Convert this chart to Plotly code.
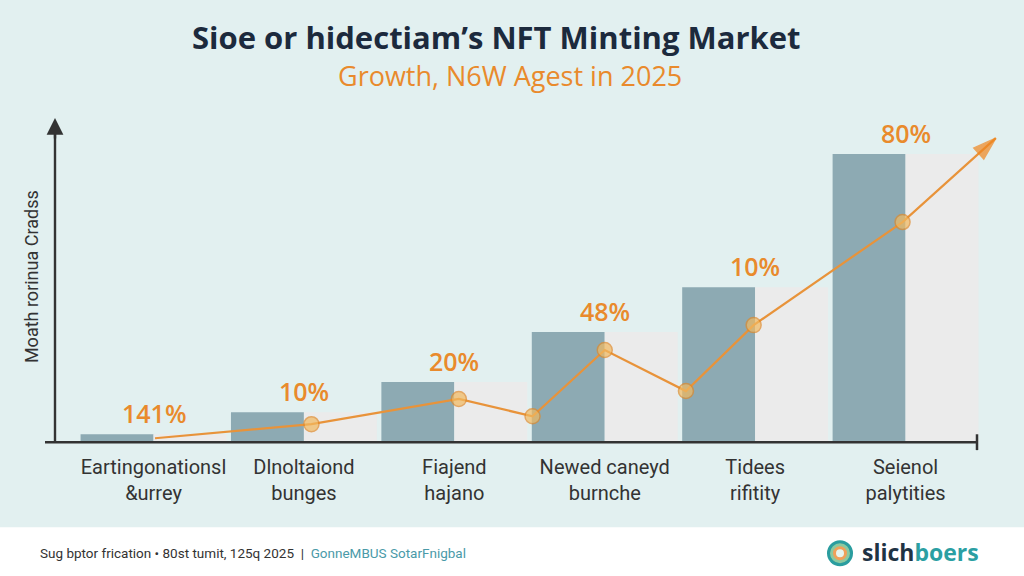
import plotly.graph_objects as go

# ---------------- data ----------------
categories = ["Eartingonationsl<br>&urrey", "Dlnoltaiond<br>bunges", "Fiajend<br>hajano",
              "Newed caneyd<br>burnche", "Tidees<br>rifitity", "Seienol<br>palytities"]
bar_values = [2.2, 8.3, 16.7, 30.6, 43.0, 80.0]
bar_labels = ["141%", "10%", "20%", "48%", "10%", "80%"]
trend_x = [0.01, 1.05, 2.03, 2.52, 3.00, 3.54, 3.99, 4.98, 5.60]
trend_y = [1.1, 5.0, 12.0, 7.2, 25.6, 14.2, 32.5, 61.1, 84.4]

title_text = "Sioe or hidectiam’s NFT Minting Market"
subtitle_text = "Growth, N6W Agest in 2025"
y_title = "Moath rorinua Cradss"
footer_main = "Sug bptor frication • 80st tumit, 125q 2025  |  "
footer_note = "GonneMBUS SotarFnigbal"

# ---------------- style ----------------
BG = "#e2f0f0"
SLATE = "#8daab3"
GREY = "#ebebeb"
ORANGE = "#e98a2c"
DARK = "#333333"
NAVY = "#1c2a3d"

W, H = 1024, 576
ML, MR, MT = 55, 24, 118
Y_MIN, Y_MAX = -3, 90
PX_PER_UNIT = 3.6
plot_h = (Y_MAX - Y_MIN) * PX_PER_UNIT
MB = H - MT - plot_h
plot_w = W - ML - MR


def pxx(p):
    return (p - ML) / plot_w


def pxy(p):
    return (MT + plot_h - p) / plot_h


xpos = list(range(len(categories)))

fig = go.Figure()
fig.add_trace(go.Bar(x=xpos, y=bar_values, marker_color=SLATE, marker_line_width=0,
                     offsetgroup="a", hoverinfo="skip"))
fig.add_trace(go.Bar(x=xpos, y=bar_values, marker_color=GREY, marker_line_width=0,
                     offsetgroup="b", hoverinfo="skip"))

n = len(trend_x)
fig.add_trace(go.Scatter(
    x=trend_x, y=trend_y, mode="lines+markers",
    line=dict(color="#e8933a", width=2.2),
    marker=dict(symbol=["circle"] * (n - 1) + ["arrow"],
                size=[15] * (n - 1) + [24],
                angleref="previous",
                color=["#f2b95f"] * (n - 1) + ["#f0861f"],
                line=dict(color=["#e08a2a"] * (n - 1) + ["#f0861f"], width=1.5)),
    cliponaxis=False, hoverinfo="skip"))

annotations = []
for i, (v, lab) in enumerate(zip(bar_values, bar_labels)):
    annotations.append(dict(x=i, y=v, text=lab, showarrow=False, yanchor="bottom", yshift=2,
                            font=dict(family="Open Sans", size=25, color=ORANGE, weight=600)))


def txt(px, py, text, font, **kw):
    d = dict(x=pxx(px), y=pxy(py), xref="paper", yref="paper", text=text, showarrow=False,
             xanchor="center", yanchor="middle", font=font)
    d.update(kw)
    return d


annotations += [
    txt(496, 37, title_text, dict(family="Open Sans", size=31, color=NAVY, weight=700)),
    txt(510, 76, subtitle_text, dict(family="Open Sans", size=27, color=ORANGE)),
    txt(31, 277, y_title, dict(family="Roboto", size=18, color=DARK), textangle=-90),
    dict(x=0, y=1, xref="paper", yref="paper", ax=0, ay=22, text="", showarrow=True,
         arrowhead=2, arrowsize=1.4, arrowwidth=2.4, arrowcolor=DARK),
    txt(38, 553, f"<span style='color:#333'>{footer_main}</span>"
                 f"<span style='color:#4a9aa8'>{footer_note}</span>",
        dict(family="Roboto", size=13.5, color=DARK), xanchor="left"),
    txt(860, 552, "<b><span style='color:#1f3344'>slich</span><span style='color:#2b9fa3'>boers</span></b>",
        dict(family="Open Sans", size=23), xanchor="left"),
]

shapes = [
    # footer band
    dict(type="rect", xref="paper", yref="paper", x0=pxx(-10), x1=pxx(1034),
         y0=pxy(590), y1=pxy(527), fillcolor="white", line_width=0, layer="below"),
    # x axis line
    dict(type="line", xref="paper", yref="y", x0=pxx(45), x1=pxx(977), y0=0, y1=0,
         line=dict(color=DARK, width=2.5)),
    dict(type="line", xref="paper", yref="y", x0=pxx(977), x1=pxx(977), y0=-2.2, y1=2.2,
         line=dict(color=DARK, width=2.5)),
    # y axis line
    dict(type="line", xref="paper", yref="paper", x0=0, x1=0, y0=pxy(442), y1=pxy(125),
         line=dict(color=DARK, width=2.4)),
]

# logo icon (concentric swirl)
for r, col in [(13, "#2a9d9f"), (10, "#8cc9a0"), (7, "#f0a05a"), (4, "#e7f4ef")]:
    shapes.append(dict(type="circle", xref="paper", yref="paper",
                       x0=pxx(840 - r), x1=pxx(840 + r), y0=pxy(553 + r), y1=pxy(553 - r),
                       fillcolor=col, line_width=0))

fig.update_layout(
    width=W, height=H,
    margin=dict(l=ML, r=MR, t=MT, b=MB),
    paper_bgcolor=BG, plot_bgcolor=BG,
    barmode="group", bargap=0.03, bargroupgap=0,
    showlegend=False,
    xaxis=dict(range=[-0.655, 5.628], tickvals=xpos, ticktext=categories,
               showgrid=False, zeroline=False, showline=False,
               ticks="", ticklabelstandoff=0,
               tickfont=dict(family="Roboto", size=20, color=DARK)),
    yaxis=dict(range=[Y_MIN, Y_MAX], showgrid=False, zeroline=False, showline=False,
               showticklabels=False),
    annotations=annotations,
    shapes=shapes,
)

fig.write_html("out.html", config={"displayModeBar": False},
               post_script="document.body.style.margin='0';document.body.style.overflow='hidden';")
